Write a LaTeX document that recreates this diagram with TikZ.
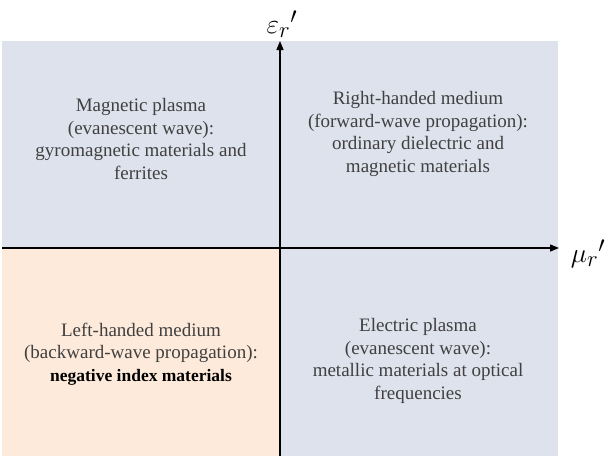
\documentclass[tikz,border=0pt]{standalone}
\usepackage{fontspec}
\setmainfont{Liberation Serif}
\newfontfamily\qfont{Liberation Serif}
\usetikzlibrary{arrows.meta}
\definecolor{qblue}{RGB}{222,226,237}
\definecolor{qpeach}{RGB}{253,234,218}
\definecolor{qtext}{RGB}{64,64,64}
\tikzset{
  quadtext/.style={align=center, text=qtext, font=\qfont\fontsize{19}{22.6}\selectfont, inner sep=0pt},
  axis/.style={line width=1.4pt, -{Triangle[length=9pt,width=7pt]}},
  axlabel/.style={font=\fontsize{24.88}{28}\selectfont, inner sep=0pt, scale=1.1}
}
\begin{document}
\begin{tikzpicture}[x=1pt,y=-1pt]
\useasboundingbox (0,0) rectangle (615,467);
% quadrants
\fill[qblue] (2,41) rectangle (558,456);
\fill[qpeach] (2,248) rectangle (280,456);
% axes
\coordinate (ybot) at (280,456);
\coordinate (ytop) at (280,41);
\coordinate (xleft) at (2,248);
\coordinate (xright) at (559,248);
\draw[axis] (ybot) -- (ytop);
\draw[axis] (xleft) -- (xright);
\node[axlabel] (eps) at (282,24) {$\varepsilon_r{}'$};
\node[axlabel] (mu) at (588,254) {$\mu_r{}'$};
% quadrant texts
\node[quadtext] (tl) at (141,139) {Magnetic plasma\\(evanescent wave):\\gyromagnetic materials and\\ferrites};
\node[quadtext] (tr) at (418,134) {Right-handed medium\\(forward-wave propagation):\\ordinary dielectric and\\magnetic materials};
\node[quadtext] (bl) at (141,354) {Left-handed medium\\(backward-wave propagation):\\{\color{black}\fontsize{17.5}{22.6}\selectfont\bfseries negative index materials}};
\node[quadtext] (br) at (418,361) {Electric plasma\\(evanescent wave):\\metallic materials at optical\\frequencies};
\end{tikzpicture}
\end{document}
